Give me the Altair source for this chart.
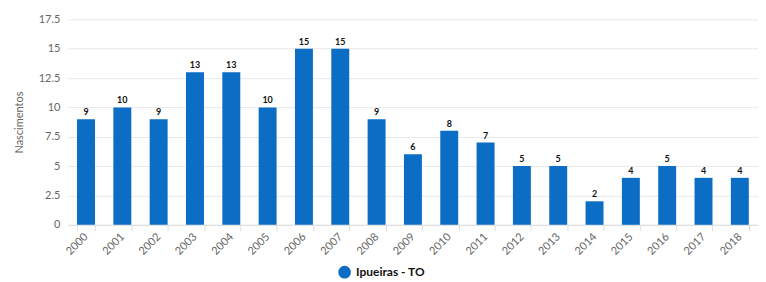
import altair as alt
import pandas as pd

anos = ["2000", "2001", "2002", "2003", "2004", "2005", "2006", "2007", "2008", "2009",
        "2010", "2011", "2012", "2013", "2014", "2015", "2016", "2017", "2018"]
nascimentos = [9, 10, 9, 13, 13, 10, 15, 15, 9, 6, 8, 7, 5, 5, 2, 4, 5, 4, 4]
serie = "Ipueiras - TO"
y_ticks = [0, 2.5, 5, 7.5, 10, 12.5, 15, 17.5]

df = pd.DataFrame({"ano": anos, "valor": nascimentos, "serie": [serie] * len(anos)})

FONT = "Lato"
BLUE = "#0b6ec4"

x = alt.X("ano:N", sort=anos, title=None,
          scale=alt.Scale(paddingInner=0.5, paddingOuter=0.25),
          axis=alt.Axis(labelAngle=-45, labelAlign="right", labelBaseline="middle",
                        labelColor="#666666", labelFont=FONT, labelFontSize=11,
                        labelPadding=4, tickBand="extent", tickColor="#dddddd",
                        tickSize=6, domainColor="#dddddd", grid=False))

y = alt.Y("valor:Q", title="Nascimentos",
          scale=alt.Scale(domain=[0, 17.5], nice=False),
          axis=alt.Axis(values=y_ticks, format=".1~f", labelOverlap=False,
                        labelColor="#666666", labelFont=FONT, labelFontSize=11,
                        titleColor="#666666", titleFont=FONT, titleFontSize=11,
                        titleFontWeight="normal", titlePadding=14, domain=False,
                        ticks=False, gridColor="#e8e8e8", labelPadding=8))

base = alt.Chart(df).encode(x=x, y=y)

bars = base.mark_bar(size=18).encode(
    color=alt.Color("serie:N", scale=alt.Scale(range=[BLUE]),
                    legend=alt.Legend(title=None, orient="none", legendX=270, legendY=246,
                                      symbolType="circle", symbolSize=160,
                                      labelFont=FONT, labelFontSize=12,
                                      labelFontWeight="bold", labelColor="#111111",
                                      direction="horizontal")),
)

labels = base.mark_text(dy=-7, fontWeight="bold", fontSize=9, font=FONT,
                        color="#111111").encode(text="valor:Q")

chart = alt.layer(bars, labels).properties(
    width=692, height=206,
    padding={"left": 5, "right": 0, "top": 5, "bottom": 5}
).configure_view(stroke=None)

chart.save("out.html", embed_options={"renderer": "svg", "actions": False})
